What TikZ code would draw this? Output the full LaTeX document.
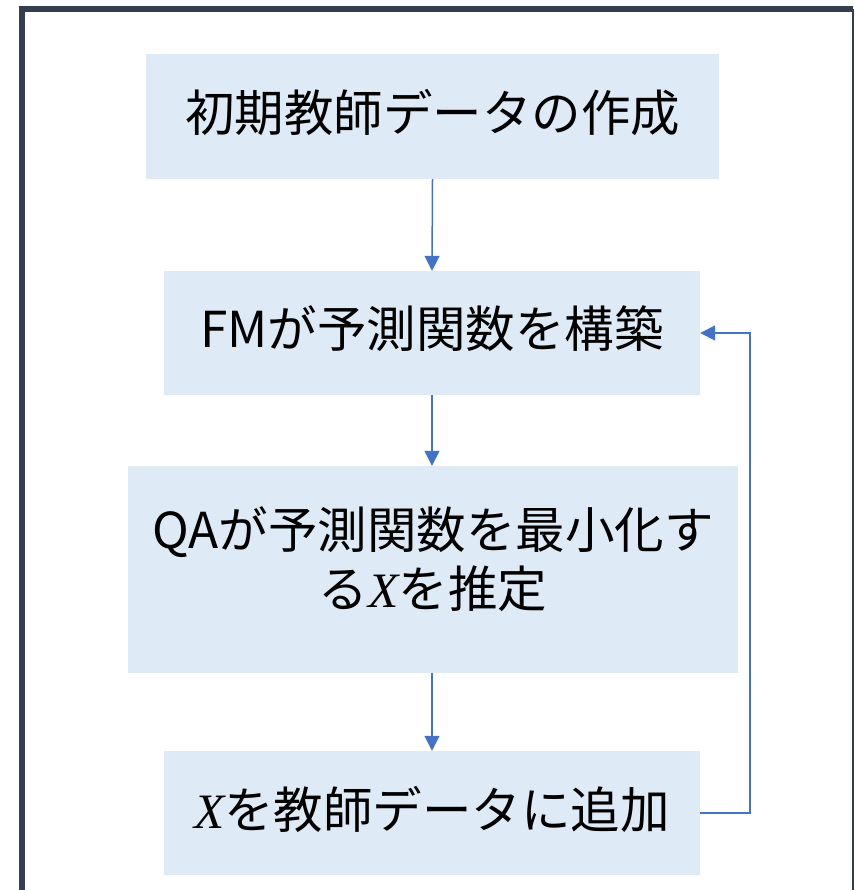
\documentclass[tikz,border=0pt]{standalone}
\usepackage{fontspec}
\setmainfont{Noto Sans CJK JP}
\newfontfamily\xserif{Liberation Serif}
\usetikzlibrary{arrows.meta}
\definecolor{boxfill}{HTML}{DEEBF7}
\definecolor{arrowblue}{HTML}{4472C4}
\definecolor{framecol}{HTML}{343E50}
\newcommand{\varX}{{\xserif\itshape X}}
\newcommand{\up}[1]{\raisebox{4pt}[\height][\depth]{#1}}
\tikzset{
  stepbox/.style={fill=boxfill, draw=none, inner sep=0pt, align=center,
    font=\fontsize{49.5}{57}\selectfont, text=black},
  flow/.style={draw=arrowblue, line width=1.5pt, -{Triangle[length=15pt,width=15pt]}},
  framerule/.style={draw=framecol}
}
\begin{document}
\begin{tikzpicture}[x=1pt,y=-1pt]
\useasboundingbox (0,0) rectangle (854,890);
\fill[white] (0,0) rectangle (854,890);
% frame
\draw[framerule, line width=6pt] (22,890) -- (22,9) -- (853,9);
\draw[framerule, line width=1.5pt] (853,9) -- (853,890);
% boxes
\node[stepbox, minimum width=573pt, minimum height=125pt] (b1) at (432.5,116.5) {\up{初期教師データの作成}};
\node[stepbox, minimum width=536pt, minimum height=124pt] (b2) at (432,333) {\up{FMが予測関数を構築}};
\node[stepbox, minimum width=610pt, minimum height=207pt] (b3) at (433,569.5) {\up{\begin{tabular}{@{}c@{}}QAが予測関数を最小化す\\る\varX を推定\end{tabular}}};
\node[stepbox, minimum width=536pt, minimum height=124pt] (b4) at (432,813) {\up{\varX を教師データに追加}};
\coordinate (turn) at (750,333);
% connectors
\draw[flow] (b1.south) -- (b2.north);
\draw[flow] (b2.south) -- (b3.north -| b2.south);
\draw[flow] (b3.south -| b2.south) -- (b4.north);
\draw[flow] (b4.east) -| (turn) -- (b2.east);
\end{tikzpicture}
\end{document}
